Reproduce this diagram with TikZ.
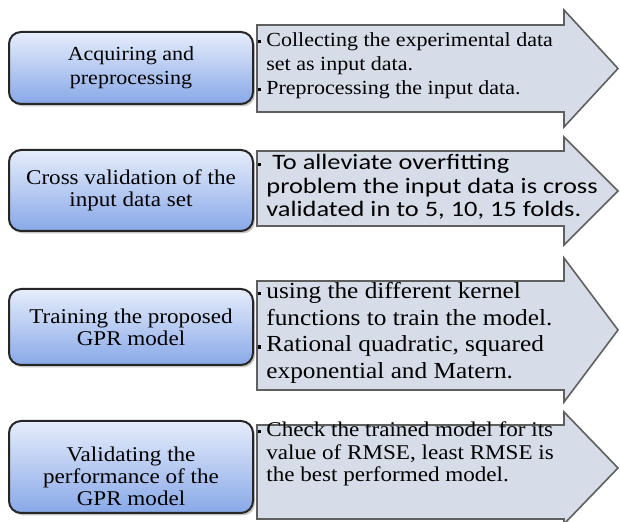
\documentclass[tikz,border=0pt]{standalone}
\usepackage{fontspec}
\setmainfont{Liberation Serif}[FakeStretch=1.1]
\newfontfamily\sansfnt{Carlito}[FakeStretch=1.2]
\usetikzlibrary{shadows}
\definecolor{boxtop}{RGB}{230,237,251}
\definecolor{boxbot}{RGB}{136,168,232}
\definecolor{arrowfill}{RGB}{214,220,232}
\definecolor{arrowline}{RGB}{95,95,95}
\tikzset{
  stage/.style={draw=black!85,line width=1pt,rounded corners=6pt,
    top color=boxtop,bottom color=boxbot,
    drop shadow={shadow xshift=1pt,shadow yshift=-1.2pt,opacity=.45},
    align=center,inner sep=0pt,minimum width=122pt,
    font=\fontsize{10.5}{11}\selectfont},
  stagelbl/.style={align=center,inner sep=0pt,font=\fontsize{10.5}{11}\selectfont},
  stagetext/.style={anchor=west,align=left,inner sep=0pt,
    font=\fontsize{10}{12}\selectfont},
  bigarrow/.style={draw=arrowline,fill=arrowfill,line width=.8pt,line join=miter}
}
% small square bullet hanging left of the text
\newcommand\sqbul{\llap{\rule[1.7pt]{1.6pt}{1.6pt}\hspace{2.5pt}}}
\begin{document}
\begin{tikzpicture}[x=0.5pt,y=-0.5pt,line cap=round]
\useasboundingbox (0,0) rectangle (620,522);
\clip (0,0) rectangle (620,522);
% arrows: body top/bottom, head top/bottom
\foreach \bt/\bb/\ht/\hb in {25/112/10/127,151/226/137/245,281/390/258/402,425/519/412/524}
  \draw[bigarrow] (257,\bt) -- (564,\bt) -- (564,\ht) -- (618,{(\ht+\hb)/2})
    -- (564,\hb) -- (564,\bb) -- (257,\bb) -- cycle;
% stages
\node[stage,minimum height=36pt,font=\fontsize{10}{12}\selectfont] (acq) at (131,68) {Acquiring and\\preprocessing};
\node[stage,minimum height=40.5pt] (cv) at (131,190.5) {Cross validation of the\\input data set};
\node[stage,minimum height=38pt] (train) at (131,327) {Training the proposed\\GPR model};
\node[stage,minimum height=46pt] (valid) at (131,467) {};
\node[stagelbl] (validlbl) at (131,476) {Validating the\\performance of the\\GPR model};
% details
\node[stagetext] (acqtxt) at (266,66) {\sqbul Collecting the experimental data\\set as input data.\\\sqbul Preprocessing the input data.};
\node[stagetext,font=\sansfnt\fontsize{11}{11.8}\selectfont] (cvtxt) at (266,187) {\sqbul\ To alleviate overfitting\\problem the input data is cross\\validated in to 5, 10, 15 folds.};
\node[stagetext,font=\fontsize{11.5}{13.3}\selectfont] (traintxt) at (266,333) {\sqbul using the different kernel\\functions to train the model.\\\sqbul Rational quadratic, squared\\exponential and Matern.};
\node[stagetext,font=\fontsize{10.5}{11.3}\selectfont] (validtxt) at (266,454) {\sqbul Check the trained model for its\\value of RMSE, least RMSE is\\the best performed model.};
\end{tikzpicture}
\end{document}
